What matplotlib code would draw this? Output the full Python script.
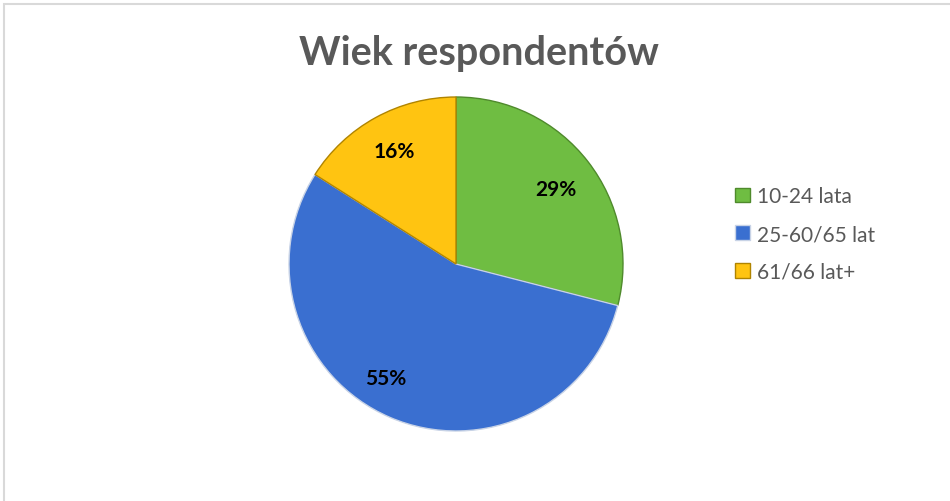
import matplotlib.pyplot as plt
from matplotlib.patches import Rectangle

kategorie = ['10-24 lata', '25-60/65 lat', '61/66 lat+']
udzialy = [29, 55, 16]
kolory = ['#6fbd42', '#3a6fd0', '#ffc411']
krawedzie = ['#4f8a2c', '#2a52a0', '#b08400']

fig = plt.figure(figsize=(9.5, 5.02), dpi=100)
fig.patch.set_facecolor('white')

# cienka szara ramka wokol wykresu
fig.patches.append(Rectangle((4 / 950, -0.05), 1.1, (502 - 5) / 502 + 0.05,
                             transform=fig.transFigure, fill=False,
                             edgecolor='#d9d9d9', linewidth=1.5))

ax = fig.add_axes([289 / 950, 70 / 502, 334 / 950, 334 / 502])
wedges, teksty, procenty = ax.pie(
    udzialy, colors=kolory, startangle=90, counterclock=False,
    autopct='%1.0f%%', pctdistance=0.77,
    wedgeprops=dict(linewidth=1.0),
    textprops=dict(fontsize=15, fontweight='bold', color='black',
                   family='Lato'))
for w, k in zip(wedges, krawedzie):
    w.set_edgecolor(k)
wedges[1].set_edgecolor('#c8d3e6')
# etykieta najwiekszego wycinka troche bardziej w lewo
procenty[1].set_position((-0.42, -0.68))
procenty[0].set_position((0.6, 0.45))
ax.set_xlim(-1, 1)
ax.set_ylim(-1, 1)
ax.set_aspect('equal')

fig.text(0.504, 0.893, 'Wiek respondentów', ha='center', va='center',
         fontsize=28.5, fontweight='bold', color='#595959', family='Lato')

fig.legend(wedges, kategorie, loc='center left',
           bbox_to_anchor=(735 / 950, (502 - 235) / 502),
           frameon=False, borderpad=0, borderaxespad=0,
           handlelength=0.7, handleheight=0.7, handletextpad=0.35,
           labelspacing=0.85, prop=dict(family='Lato', size=15),
           labelcolor='#595959')

fig.savefig('out.png', dpi=100)
